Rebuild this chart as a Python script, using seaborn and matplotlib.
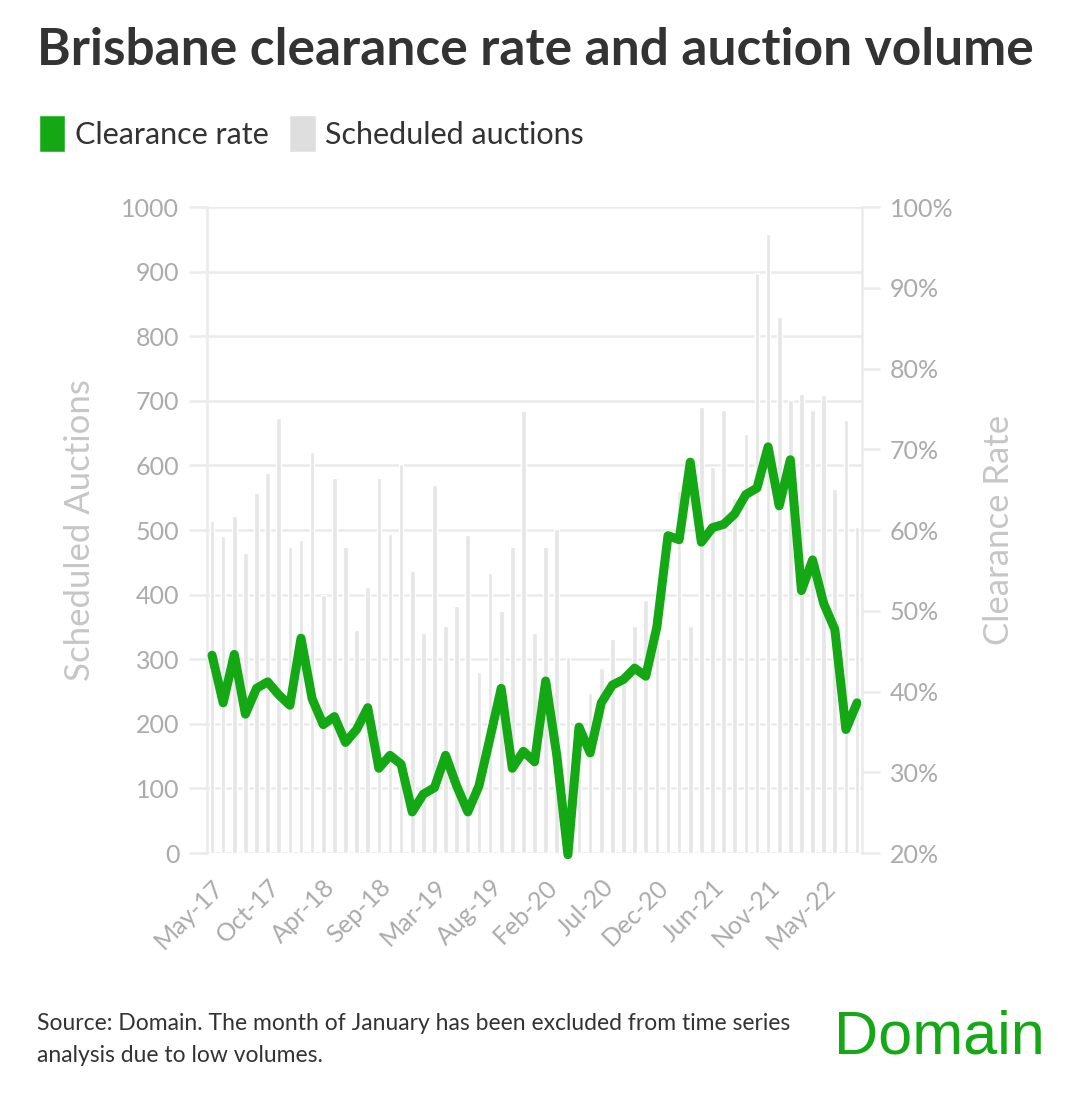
import numpy as np
import pandas as pd
import seaborn as sns
import matplotlib.pyplot as plt
from matplotlib.patches import Patch
from matplotlib.ticker import MultipleLocator, FuncFormatter

# monthly series, January left out
months = ['May-17', 'Jun-17', 'Jul-17', 'Aug-17', 'Sep-17', 'Oct-17', 'Nov-17', 'Dec-17',
          'Feb-18', 'Mar-18', 'Apr-18', 'May-18', 'Jun-18', 'Jul-18', 'Aug-18', 'Sep-18', 'Oct-18', 'Nov-18', 'Dec-18',
          'Feb-19', 'Mar-19', 'Apr-19', 'May-19', 'Jun-19', 'Jul-19', 'Aug-19', 'Sep-19', 'Oct-19', 'Nov-19', 'Dec-19',
          'Feb-20', 'Mar-20', 'Apr-20', 'May-20', 'Jun-20', 'Jul-20', 'Aug-20', 'Sep-20', 'Oct-20', 'Nov-20', 'Dec-20',
          'Feb-21', 'Mar-21', 'Apr-21', 'May-21', 'Jun-21', 'Jul-21', 'Aug-21', 'Sep-21', 'Oct-21', 'Nov-21', 'Dec-21',
          'Feb-22', 'Mar-22', 'Apr-22', 'May-22', 'Jun-22', 'Jul-22', 'Aug-22']

auctions = [514, 491, 522, 464, 558, 588, 674, 474,
            484, 621, 399, 580, 474, 346, 412, 580, 494, 602, 437,
            341, 570, 351, 383, 492, 280, 434, 375, 474, 684, 341,
            474, 501, 304, 190, 247, 287, 331, 270, 351, 391, 360,
            331, 561, 351, 691, 597, 686, 549, 649, 898, 958, 829,
            701, 711, 686, 709, 563, 670, 504]

clearance = [44.5, 38.6, 44.6, 37.2, 40.4, 41.2, 39.6, 38.3,
             46.6, 39.1, 35.9, 36.9, 33.7, 35.3, 38.0, 30.5, 32.1, 31.0, 25.1,
             27.3, 28.1, 32.1, 28.3, 25.1, 28.3, 34.3, 40.4, 30.5, 32.6, 31.3,
             41.3, 32.1, 19.8, 35.6, 32.4, 38.6, 40.8, 41.5, 42.9, 41.9, 48.0,
             59.3, 58.8, 68.4, 58.5, 60.3, 60.7, 62.0, 64.4, 65.2, 70.3, 63.0,
             68.7, 52.5, 56.3, 50.9, 47.7, 35.3, 38.6]

GREEN = '#14a814'
BAR = '#e6e6e6'
GRID = '#ebebeb'
TICK = '#ababab'
DARK = '#333333'

df = pd.DataFrame({'month': months, 'auctions': auctions, 'rate': clearance})
df['pos'] = df.index

sns.set_theme(style='white')
plt.rcParams['font.family'] = ['Lato', 'DejaVu Sans']

fig = plt.figure(figsize=(10.8, 11), dpi=100)
ax = fig.add_axes([0.1917, 0.2245, 0.6065, 0.5873])

# bars: scheduled auctions (left axis)
sns.barplot(data=df, x='month', y='auctions', color=BAR, saturation=1, width=0.42, ax=ax)
ax.set_ylim(0, 1000)
ax.set_xlim(-0.45, len(months) - 0.55)
ax.yaxis.set_major_locator(MultipleLocator(100))
ax.grid(axis='y', color=GRID, linewidth=1.8)
ax.set_axisbelow(True)
ax.set_xticks(df['pos'])
ax.set_xticklabels([m if i % 5 == 0 else '' for i, m in enumerate(months)],
                   rotation=45, ha='right', va='top', rotation_mode='anchor')
ax.tick_params(axis='x', length=12, width=2.5, color=BAR, labelcolor=TICK, labelsize=18, pad=4)
ax.tick_params(axis='y', length=13, width=1.8, color=GRID, labelcolor=TICK, labelsize=18, pad=7)
ax.set_xlabel('')
ax.set_ylabel('Scheduled Auctions', fontsize=25, color='#c6c6c6')
ax.yaxis.set_label_coords(-0.17, 0.5)
for s in ['top', 'bottom', 'right']:
    ax.spines[s].set_visible(False)
ax.spines['left'].set_color(GRID)
ax.spines['left'].set_linewidth(1.8)

# line: clearance rate (right axis)
ax2 = ax.twinx()
sns.lineplot(data=df, x='pos', y='rate', color=GREEN, linewidth=6.5, clip_on=False,
             solid_joinstyle='round', solid_capstyle='round', ax=ax2)
ax2.set_ylim(20, 100)
ax2.yaxis.set_major_locator(MultipleLocator(10))
ax2.yaxis.set_major_formatter(FuncFormatter(lambda v, p: f'{v:.0f}%'))
ax2.tick_params(axis='y', length=13, width=1.8, color=GRID, labelcolor=TICK, labelsize=18, pad=7)
ax2.set_xlabel('')
ax2.set_ylabel('Clearance Rate', fontsize=25, color='#c6c6c6')
ax2.yaxis.set_label_coords(1.185, 0.5)
for s in ['top', 'bottom', 'left']:
    ax2.spines[s].set_visible(False)
ax2.spines['right'].set_color(GRID)
ax2.spines['right'].set_linewidth(1.8)

# title, legend, footer
fig.text(0.034, 0.941, 'Brisbane clearance rate and auction volume',
         fontsize=37, fontweight='bold', color=DARK, va='baseline')

handles = [Patch(facecolor=GREEN, edgecolor=GREEN, linewidth=4, joinstyle='round'),
           Patch(facecolor='#dedede', edgecolor='#dedede', linewidth=4, joinstyle='round')]
fig.legend(handles, ['Clearance rate', 'Scheduled auctions'], loc='center left',
           bbox_to_anchor=(0.014, 0.878), ncol=2, frameon=False, fontsize=22,
           handlelength=0.65, handleheight=1.1, handletextpad=0.4, columnspacing=0.8,
           labelcolor=DARK)

fig.text(0.034, 0.0636, 'Source: Domain. The month of January has been excluded from time series',
         fontsize=16.5, color=DARK, va='baseline')
fig.text(0.034, 0.0345, 'analysis due to low volumes.', fontsize=16.5, color=DARK, va='baseline')
fig.text(0.9676, 0.0427, 'Domain', ha='right', va='baseline', fontsize=44,
         color=GREEN, family='Liberation Sans')

fig.savefig('out.png', dpi=100)
